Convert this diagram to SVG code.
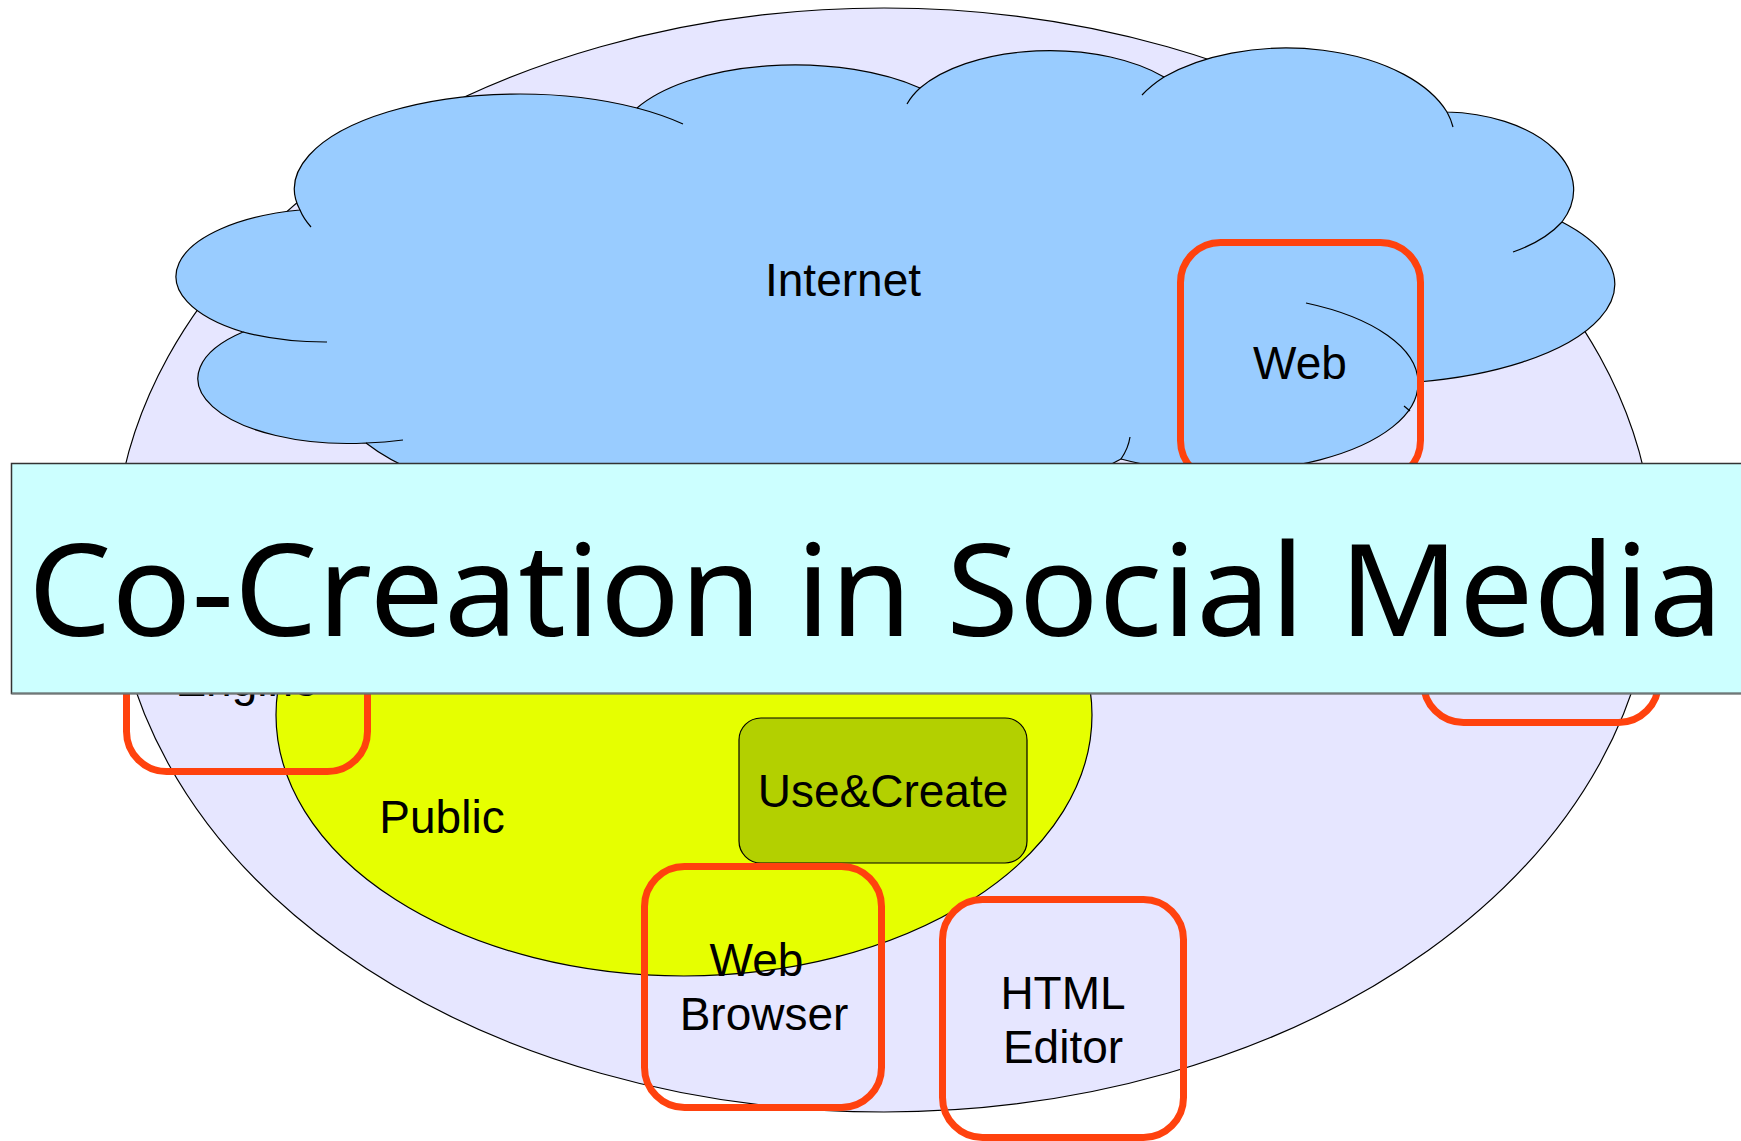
<svg xmlns="http://www.w3.org/2000/svg" width="1741" height="1141" viewBox="0 0 1741 1141">
  <style>
    .lbl { font-family: "Liberation Sans", Arial, sans-serif; font-size: 46px; fill: #000; text-anchor: middle; }
    .thin { stroke: #000; stroke-width: 1.2; }
    .inner { fill: none; stroke: #000; stroke-width: 1.2; }
    .redbox { fill: none; stroke: #FF420E; stroke-width: 7; }
    .title { font-family: "Noto Sans", "Open Sans", sans-serif; font-size: 128px; fill: #000; }
  </style>
  <rect width="1741" height="1141" fill="#FFFFFF"/>

  <g id="social-media-sphere">
    <ellipse cx="884" cy="560" rx="770" ry="552" fill="#E6E6FF" class="thin"/>
  </g>

  <g id="public">
    <ellipse cx="684" cy="715" rx="408" ry="261" fill="#E6FF00" class="thin"/>
    <text class="lbl" x="442" y="833">Public</text>
  </g>

  <g id="internet-cloud">
    <path fill="#99CCFF" class="thin" d="M243,332 A158,68 0 0 1 300,210 A225,95 0 0 1 637,108 A178,80 0 0 1 920,88 A150,75 0 0 1 1164,77 A170,95 0 0 1 1447,112 A132,78 0 0 1 1562,222 A245,100 0 0 1 1418,382 A196,88 0 0 1 1121,459 A420,133 0 0 1 366,443 A150,65 0 0 1 243,332 Z"/>
    <path class="inner" d="M300,210 A225,95 0 0 0 311,227"/>
    <path class="inner" d="M243,332 A158,68 0 0 0 327,342"/>
    <path class="inner" d="M366,443 A166,65 0 0 0 403,440"/>
    <path class="inner" d="M637,108 A225,95 0 0 1 683,124"/>
    <path class="inner" d="M920,88 A150,75 0 0 0 907,104"/>
    <path class="inner" d="M1164,77 A170,95 0 0 0 1142,95"/>
    <path class="inner" d="M1447,112 A170,95 0 0 1 1453,127"/>
    <path class="inner" d="M1562,222 A132,78 0 0 1 1513,252"/>
    <path class="inner" d="M1418,382 A196,88 0 0 0 1306,303"/>
    <path class="inner" d="M1121,459 A420,133 0 0 0 1130,437"/>
    <path class="inner" d="M1404,406 L1410,411"/>
    <text class="lbl" x="843" y="296">Internet</text>
  </g>

  <g id="use-create">
    <rect x="739" y="718" width="288" height="145" rx="22" ry="22" fill="#B3D000" class="thin"/>
    <text class="lbl" x="883" y="807">Use&amp;Create</text>
  </g>

  <g id="web">
    <rect class="redbox" x="1180.5" y="242.5" width="240" height="238" rx="40" ry="40"/>
    <text class="lbl" x="1300" y="379">Web</text>
  </g>

  <g id="search-engine">
    <rect class="redbox" x="126.5" y="533.5" width="241" height="238" rx="40" ry="40"/>
    <text class="lbl" x="247" y="696">Engine</text>
  </g>

  <g id="right-tool">
    <rect class="redbox" x="1423.5" y="484.5" width="235" height="238" rx="40" ry="40"/>
  </g>

  <g id="web-browser">
    <rect class="redbox" x="644.5" y="866.5" width="237" height="241" rx="40" ry="40"/>
    <text class="lbl" x="756.5" y="976">Web</text>
    <text class="lbl" x="764" y="1030">Browser</text>
  </g>

  <g id="html-editor">
    <rect class="redbox" x="942.5" y="899.5" width="241" height="238" rx="40" ry="40"/>
    <text class="lbl" x="1063" y="1009">HTML</text>
    <text class="lbl" x="1063" y="1063">Editor</text>
  </g>

  <g id="connectors"></g>

  <g id="title-banner">
    <rect x="11.5" y="463.5" width="1740" height="230" fill="#CCFFFF" stroke="#333333" stroke-width="1.5"/>
    <line x1="11.5" y1="693.5" x2="1741" y2="693.5" stroke="#707878" stroke-width="2"/>
    <text class="title" x="28" y="636" textLength="1695" lengthAdjust="spacingAndGlyphs">Co-Creation in Social Media</text>
  </g>
</svg>
